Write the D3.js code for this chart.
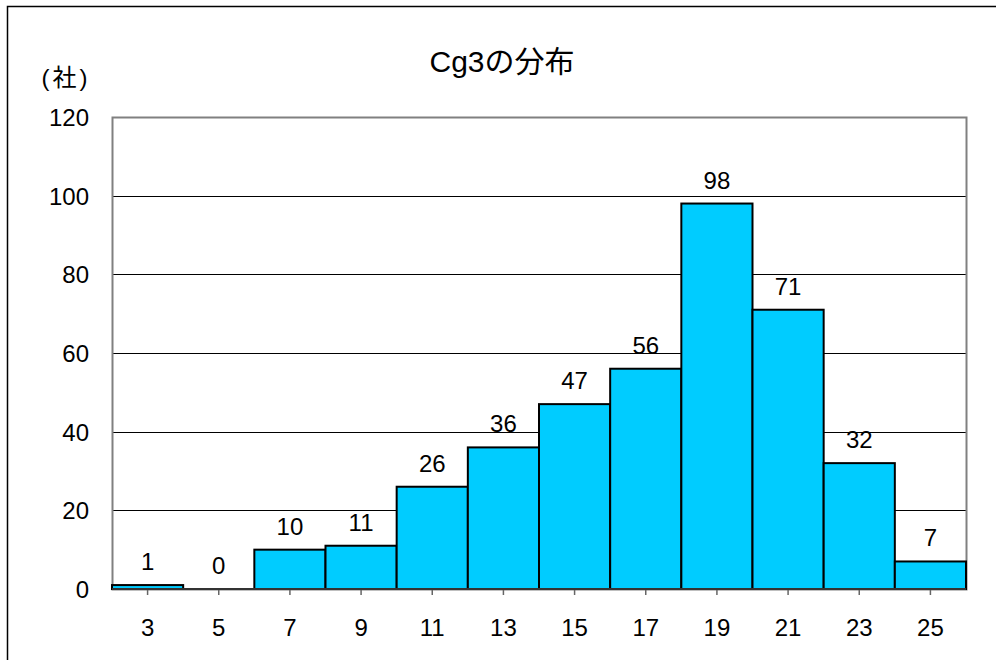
<!DOCTYPE html>
<html>
<head>
<meta charset="utf-8">
<script src="https://cdn.jsdelivr.net/npm/d3@7"></script>
<style>
  body { margin: 0; background: #fff; }
  text { font-family: "Liberation Sans", Arial, "Noto Sans CJK JP", sans-serif; fill: #000; }
</style>
</head>
<body>
<div id="chart"></div>
<script>
// class labels (x axis) and company counts
const classes = ["3", "5", "7", "9", "11", "13", "15", "17", "19", "21", "23", "25"];
const counts = [1, 0, 10, 11, 26, 36, 47, 56, 98, 71, 32, 7];
const yTicks = [0, 20, 40, 60, 80, 100, 120];

const W = 996, H = 660;
let margin = {top: 117, right: 30, bottom: 71, left: 112},
    width = W - margin.left - margin.right,
    height = H - margin.top - margin.bottom;

let svg = d3.select("#chart").append("svg")
    .attr("width", W)
    .attr("height", H);

// outer chart frame (runs off the right/bottom edge)
svg.append("path")
    .attr("d", "M7.5," + H + "V6.5H" + W)
    .attr("fill", "none")
    .attr("stroke", "#000")
    .attr("stroke-width", 1.5);

let g = svg.append("g")
    .attr("transform", "translate(" + margin.left + "," + margin.top + ")");

let x = d3.scaleBand()
    .domain(classes)
    .range([0, width])
    .padding(0);

let y = d3.scaleLinear()
    .domain([0, 120])
    .range([height, 0]);

// gridlines
g.append("g")
    .selectAll("line")
    .data(yTicks.filter(d => d > 0 && d < 120))
    .join("line")
    .attr("x1", 0)
    .attr("x2", width)
    .attr("y1", d => Math.round(y(d)) + 0.5)
    .attr("y2", d => Math.round(y(d)) + 0.5)
    .attr("stroke", "#000")
    .attr("stroke-width", 1);

// plot area border
g.append("rect")
    .attr("x", 0.5)
    .attr("y", 0.5)
    .attr("width", width)
    .attr("height", height)
    .attr("fill", "none")
    .attr("stroke", "#808080")
    .attr("stroke-width", 2);

// y axis labels
g.append("g")
    .selectAll("text")
    .data(yTicks)
    .join("text")
    .attr("x", -23)
    .attr("y", d => y(d) + 9)
    .attr("text-anchor", "end")
    .style("font-size", "24px")
    .text(d => d);

// x axis ticks and labels
let xa = g.append("g")
    .attr("transform", "translate(0," + height + ")");
xa.selectAll("line")
    .data(classes)
    .join("line")
    .attr("x1", d => x(d) + x.bandwidth() / 2)
    .attr("x2", d => x(d) + x.bandwidth() / 2)
    .attr("y1", 0)
    .attr("y2", 6)
    .attr("stroke", "#666")
    .attr("stroke-width", 1.5);
xa.selectAll("text")
    .data(classes)
    .join("text")
    .attr("x", d => x(d) + x.bandwidth() / 2)
    .attr("y", 47)
    .attr("text-anchor", "middle")
    .style("font-size", "24px")
    .text(d => d);

// bars
g.append("g")
    .selectAll("rect")
    .data(counts)
    .join("rect")
    .attr("x", (d, i) => x(classes[i]))
    .attr("y", d => y(d))
    .attr("width", x.bandwidth())
    .attr("height", d => height - y(d))
    .attr("fill", "#00CCFF")
    .attr("stroke", d => d > 0 ? "#000" : "none")
    .attr("stroke-width", 2);

// x axis baseline
g.append("line")
    .attr("x1", 0)
    .attr("x2", width)
    .attr("y1", height)
    .attr("y2", height)
    .attr("stroke", "#333")
    .attr("stroke-width", 2);

// value labels
g.append("g")
    .selectAll("text")
    .data(counts)
    .join("text")
    .attr("x", (d, i) => x(classes[i]) + x.bandwidth() / 2)
    .attr("y", d => y(d) - 15)
    .attr("text-anchor", "middle")
    .style("font-size", "24px")
    .text(d => d);

// title
svg.append("text")
    .attr("x", 502)
    .attr("y", 72)
    .attr("text-anchor", "middle")
    .style("font-size", "30px")
    .text("Cg3の分布");

// unit label
svg.append("text")
    .attr("x", 66)
    .attr("y", 86)
    .attr("text-anchor", "middle")
    .style("font-size", "24px")
    .style("letter-spacing", "3px")
    .text("(社)");
</script>
</body>
</html>
